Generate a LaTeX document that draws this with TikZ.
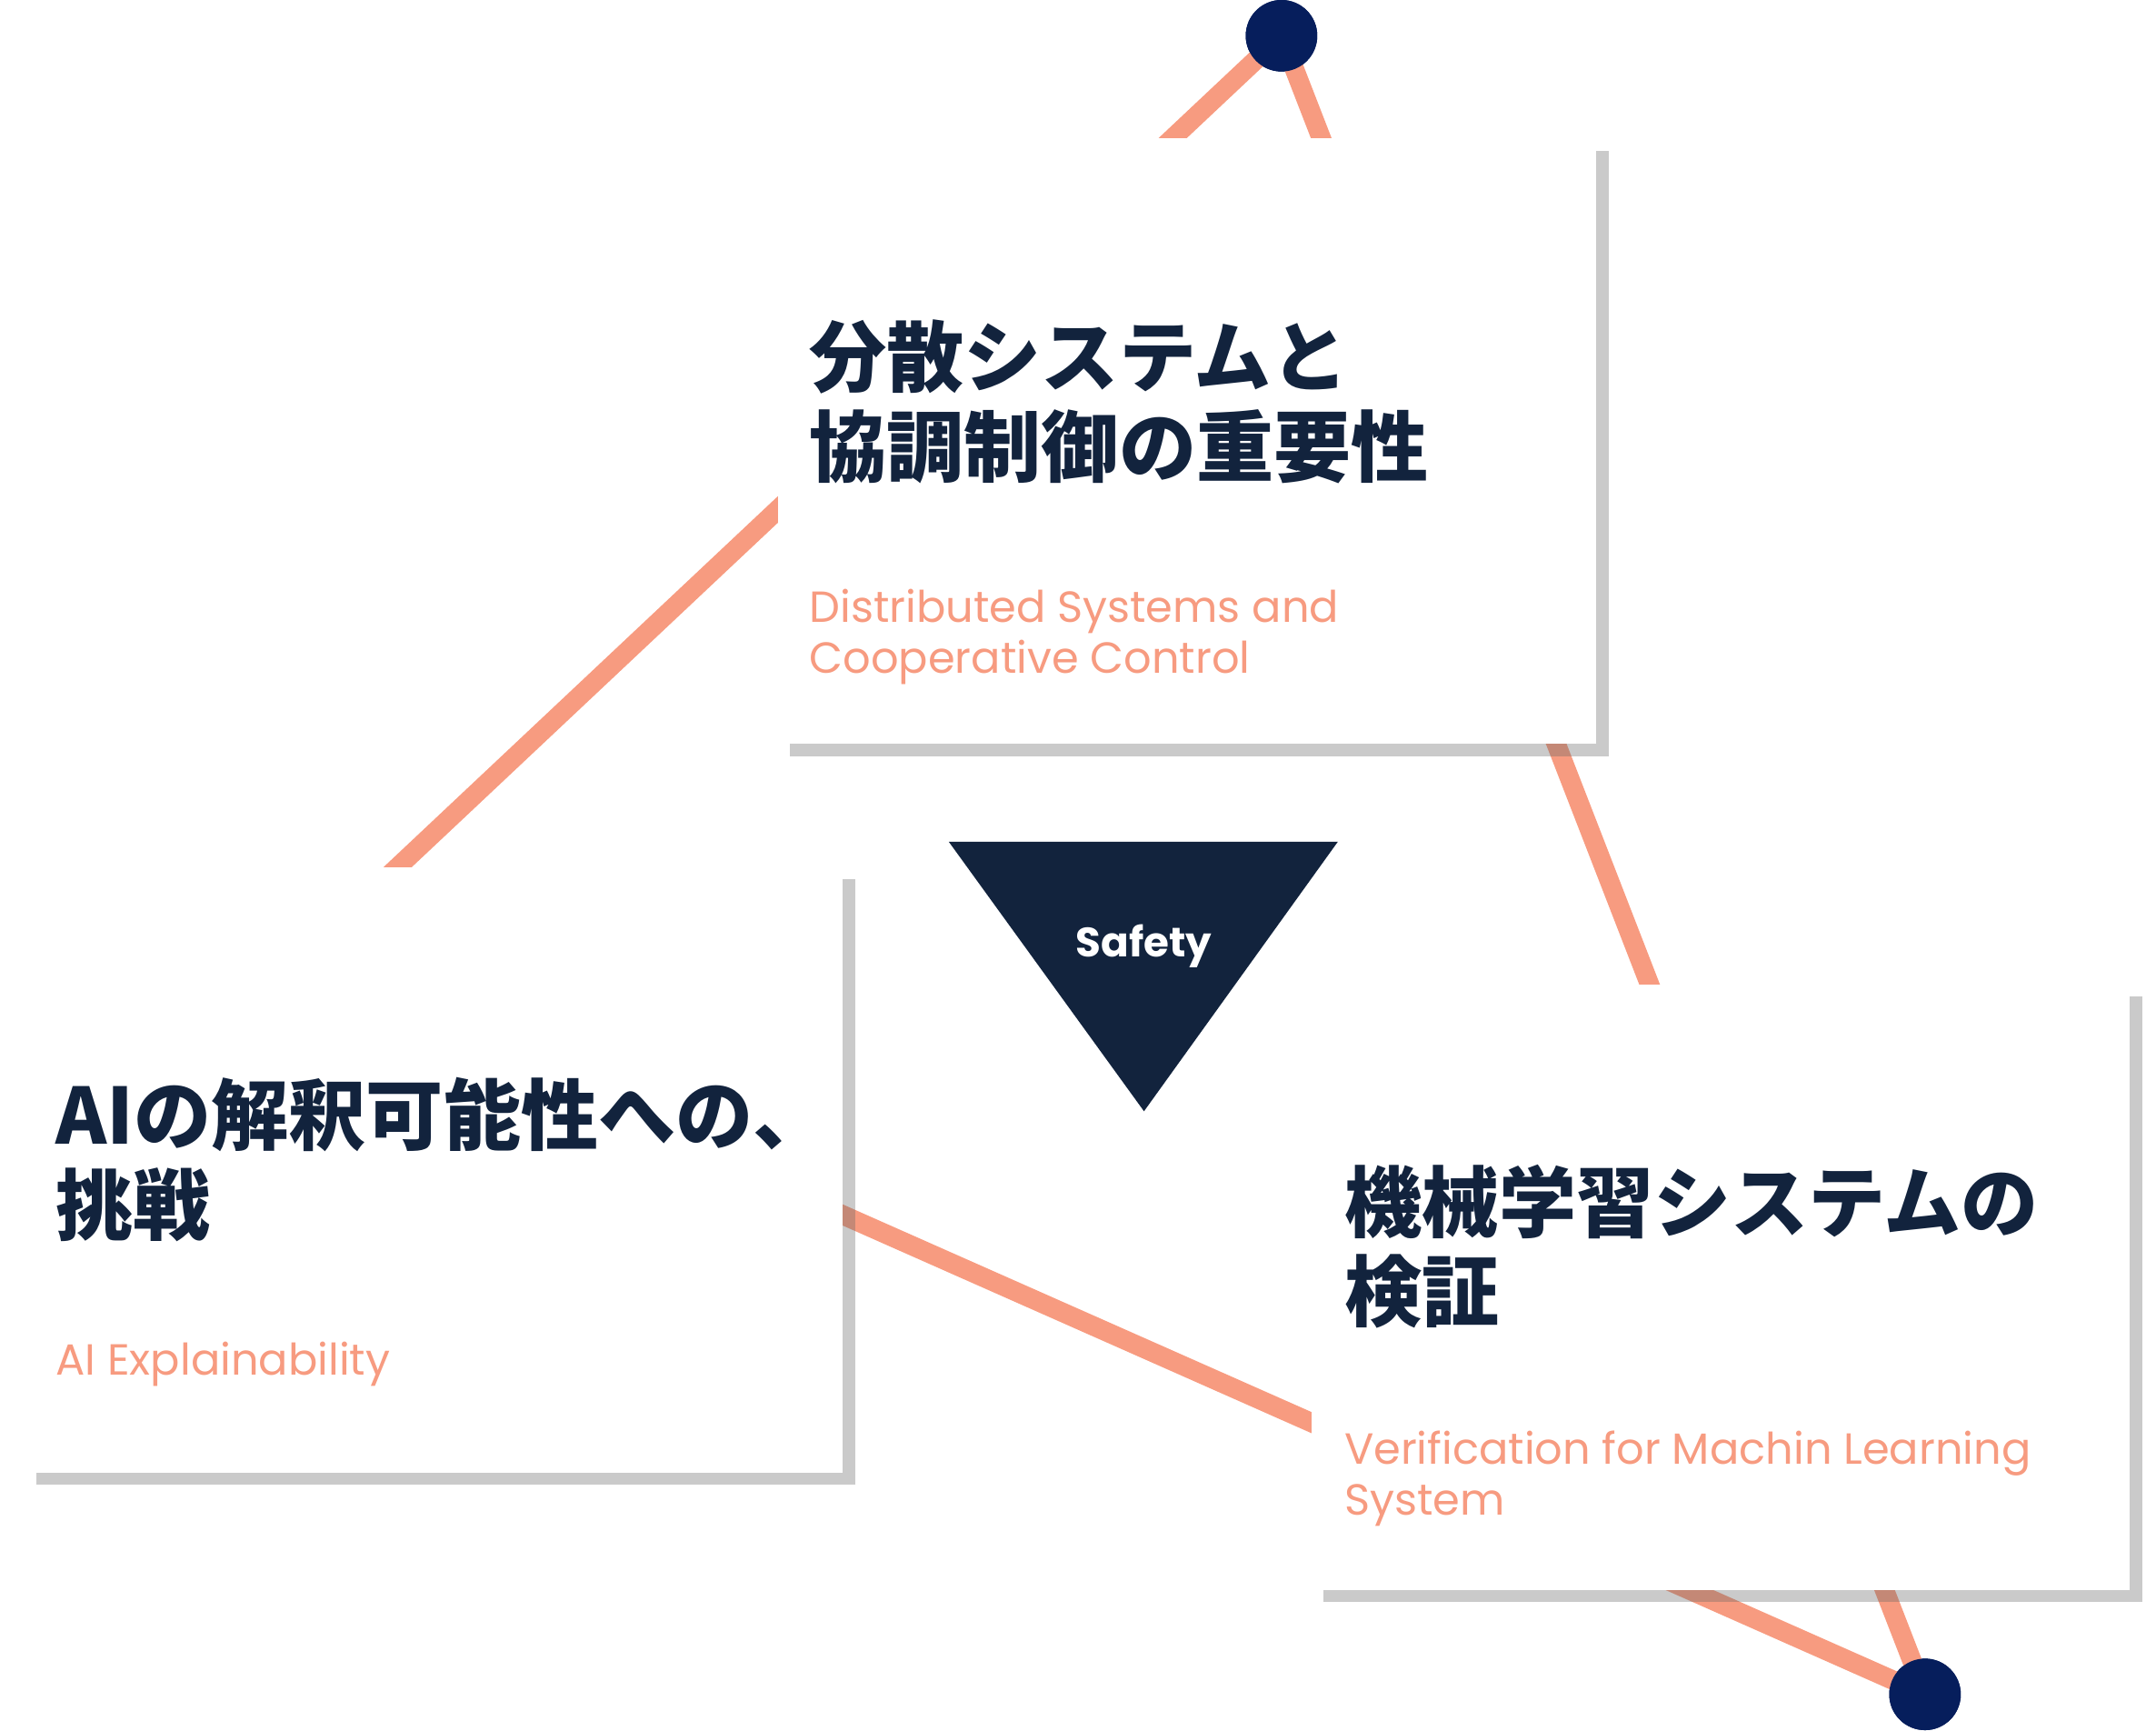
\documentclass[tikz,border=0pt]{standalone}
\usepackage{fontspec}
\setmainfont{Poppins}
\newfontfamily\cjk{Noto Sans CJK JP}
\usetikzlibrary{shadows}
\definecolor{salmon}{HTML}{F79B80}
\definecolor{ink}{HTML}{12233D}
\definecolor{dotblue}{HTML}{061E5C}
\tikzset{
  card/.style={fill=white, minimum width=5.95cm, minimum height=4.4cm, anchor=north west,
    drop shadow={shadow xshift=2.5pt, shadow yshift=-2.5pt, opacity=0.35, fill=black!60}},
  title/.style={anchor=north west, align=left, inner sep=0pt, text=ink,
    font=\cjk\bfseries\fontsize{16}{18.5}\selectfont},
  subtitle/.style={anchor=north west, align=left, inner sep=0pt, text=salmon,
    font=\fontsize{9}{10.4}\selectfont},
  dot/.style={circle, fill=dotblue, minimum size=0.52cm, inner sep=0pt},
  link/.style={salmon, line width=4pt}
}
\begin{document}
\begin{tikzpicture}[x=0.01cm, y=-0.01cm]
\useasboundingbox (0,0) rectangle (1568,1258);
% corners of the triangle
\node[dot] (top) at (932,26) {};
\node[dot] (bottom) at (1400,1232) {};
\coordinate (left) at (210,705);
\draw[link] (top.center) -- (left) -- (bottom.center) -- cycle;
\node[dot] at (top) {};
\node[dot] at (bottom) {};
% cards
\node[card] (distributed) at (565,100) {};
\node[card] (explain) at (17,630) {};
\node[card] (verify) at (953,715) {};
\node[title] (distributedT) at (588,232) {分散システムと\\協調制御の重要性};
\node[subtitle] (distributedS) at (588,428) {Distributed Systems and\\Cooperative Control};
\node[title] (explainT) at (40,783) {AIの解釈可能性への、\\挑戦};
\node[subtitle] (explainS) at (40,975) {AI Explainability};
\node[title] (verifyT) at (977,846) {機械学習システムの\\検証};
\node[subtitle] (verifyS) at (977,1040) {Verification for Machin Learning\\System};
% center
\fill[ink] (690,612) -- (973,612) -- (832,808) -- cycle;
\node[text=white, font=\bfseries\fontsize{8.5}{10}\selectfont] (safety) at (832,688) {Safety};
\end{tikzpicture}
\end{document}
